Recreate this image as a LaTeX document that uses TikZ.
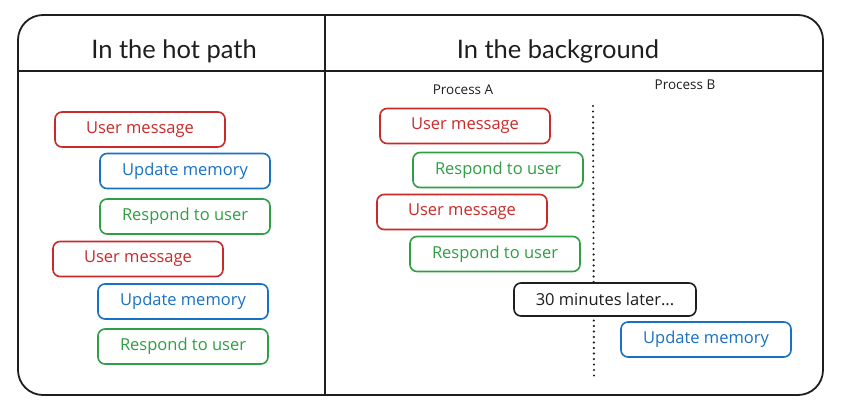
\documentclass[tikz,border=0pt]{standalone}
\usepackage{fontspec}
\setmainfont{Open Sans}
\newfontfamily\titlefont{Lato}
\definecolor{exred}{HTML}{C92A2A}
\definecolor{exblue}{HTML}{1971C2}
\definecolor{exgreen}{HTML}{2F9E44}
\definecolor{exblack}{HTML}{1E1E1E}
\begin{document}
\begin{tikzpicture}[x=1pt,y=-1pt,
  frame/.style={draw=exblack,line width=1.8pt},
  msgbox/.style={draw,line width=1.6pt,rounded corners=7pt,fill=white,
    minimum width=170pt,minimum height=35pt,inner sep=0pt,
    font=\fontsize{16.5}{19}\selectfont},
  redbox/.style={msgbox,draw=exred,text=exred},
  bluebox/.style={msgbox,draw=exblue,text=exblue},
  greenbox/.style={msgbox,draw=exgreen,text=exgreen},
  blackbox/.style={msgbox,draw=exblack,text=exblack,minimum width=182pt,minimum height=33pt},
  title/.style={font=\titlefont\fontsize{25.5}{30}\selectfont,text=exblack},
  proclabel/.style={font=\fontsize{13.5}{16}\selectfont,text=exblack},
  timeline/.style={draw=exblack,line width=2.4pt,line cap=round,dash pattern=on 0pt off 5.5pt}
]
\useasboundingbox (0,0) rectangle (842,418);
% frame
\draw[frame,rounded corners=25pt] (18,15) rectangle (823,395);
\draw[frame] (18,71) -- (823,71);
\draw[frame] (325,15) -- (325,395);
% titles
\node[title] (t1) at (174,51) {In the hot path};
\node[title] (t2) at (558,51) {In the background};
\node[proclabel] (pa) at (463,90) {Process A};
\node[proclabel] (pb) at (685,85) {Process B};
% timeline
\coordinate (dtop) at (593,106);
\coordinate (dbot) at (594,377);
\draw[timeline] (dtop) -- (dbot);
% left column
\node[redbox]   (l1) at (140,129.5) {User message};
\node[bluebox]  (l2) at (185,171)   {Update memory};
\node[greenbox] (l3) at (185,216.5) {Respond to user};
\node[redbox]   (l4) at (138,259)   {User message};
\node[bluebox]  (l5) at (183,301.5) {Update memory};
\node[greenbox] (l6) at (183,346.5) {Respond to user};
% right column
\node[redbox]   (r1) at (465,126)   {User message};
\node[greenbox] (r2) at (498,170)   {Respond to user};
\node[redbox]   (r3) at (462,212)   {User message};
\node[greenbox] (r4) at (495,254)   {Respond to user};
\node[blackbox] (r5) at (605,299.5) {30 minutes later...};
\node[bluebox]  (r6) at (706,339.5) {Update memory};
\end{tikzpicture}
\end{document}
